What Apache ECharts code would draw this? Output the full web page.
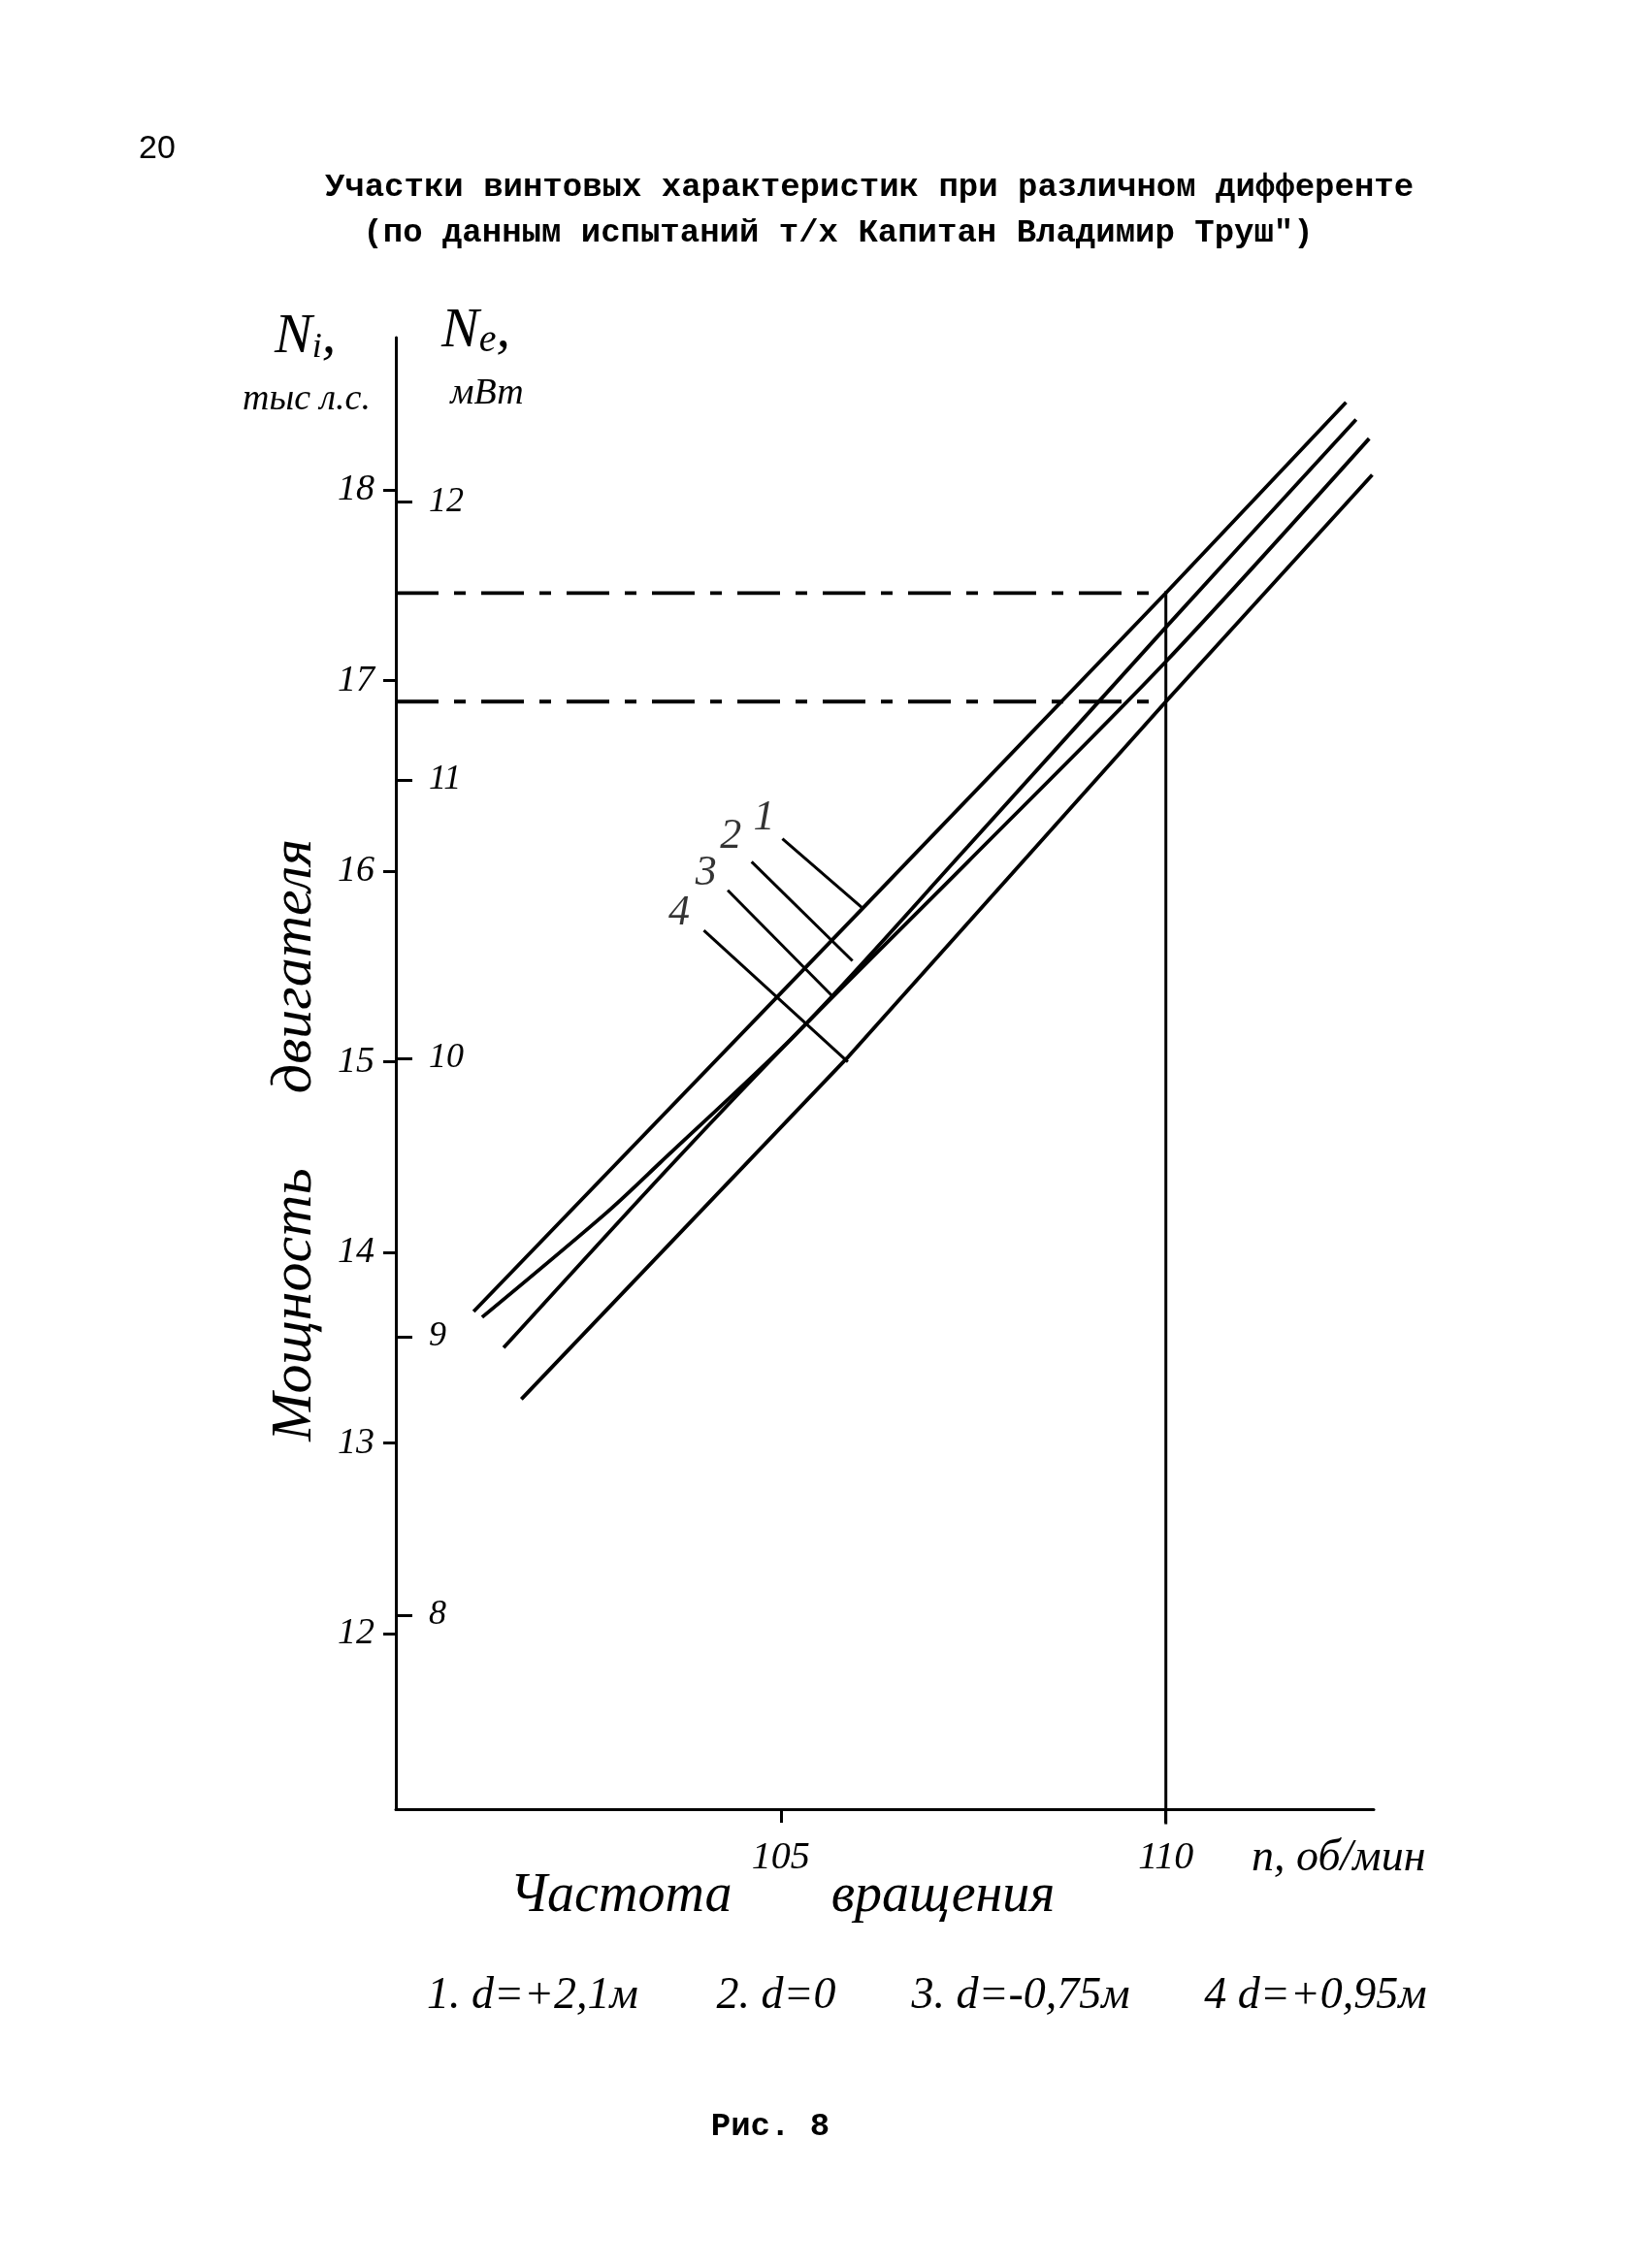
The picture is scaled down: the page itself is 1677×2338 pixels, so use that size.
<!DOCTYPE html>
<html><head><meta charset="utf-8">
<script src="https://cdn.jsdelivr.net/npm/echarts@6/dist/echarts.min.js"></script>
<style>html,body{margin:0;padding:0;background:#fff}#c{width:1677px;height:2338px}</style>
</head><body><div id="c"></div>
<script>
// Curves: [n (rpm), Ni (thousand hp)]
const curve1 = [[101.01,13.69],[106.05,15.80],[110.0,17.46],[112.34,18.46]];
const curve2 = [[101.12,13.66],[102.74,14.21],[103.43,14.47],[105.28,15.18],[107.43,16.13],[110.0,17.28],[112.47,18.37]];
const curve3 = [[101.40,13.50],[103.58,14.46],[105.28,15.18],[107.43,16.05],[110.0,17.10],[112.64,18.27]];
const curve4 = [[101.63,13.23],[105.86,15.02],[110.0,16.89],[112.68,18.08]];
const curveNames = ['1','2','3','4'];
const labelPoints = [[104.78,16.28],[104.35,16.18],[104.03,15.99],[103.68,15.78]];
const leader1 = [[105.02,16.17],[106.05,15.81]];
const leader2 = [[104.62,16.05],[105.93,15.53]];
const leader3 = [[104.31,15.90],[105.68,15.34]];
const leader4 = [[104.00,15.69],[105.87,15.00]];
const upperDash = [[100,17.46],[110,17.46]];
const lowerDash = [[100,16.89],[110,16.89]];
const vertical110 = [[110,17.46],[110,11.0]];
const niTicks = [12,13,14,15,16,17,18];
const neTicks = [8,9,10,11,12];
const xTicks = [105,110];
const legendItems = ['1. d=+2,1м','2. d=0','3. d=-0,75м','4 d=+0,95м'];

const HAND = '"Liberation Serif"';
const TYPE = '"Liberation Mono"';
const chart = echarts.init(document.getElementById('c'));

function lineSeries(data, w, dash, smooth) {
  return {type:'line', data:data, symbol:'none', silent:true, clip:false, smooth: smooth || false,
    lineStyle:{color:'#000', width:w, type: dash || 'solid'}, z: 3};
}
function txt(x, y, text, size, family, opts) {
  opts = opts || {};
  return {type:'text', x:x, y:y, rotation: opts.rot || 0, z:10,
    style:{text:text, fontSize:size, fontFamily:family, fontStyle: opts.style || 'normal',
      fontWeight: opts.weight || 'normal', fill:'#000',
      align: opts.align || 'center', verticalAlign:'middle',
      textAlign: opts.align || 'center', textVerticalAlign:'middle'}};
}

const option = {
  backgroundColor:'#fff',
  animation:false,
  grid:{left:408, right:261, top:348, bottom:473},
  xAxis:{type:'value', min:100, max:112.7, interval:5,
    axisLine:{lineStyle:{color:'#000', width:3}},
    axisTick:{customValues:xTicks, length:14, lineStyle:{color:'#000', width:3}},
    axisLabel:{customValues:xTicks, margin:30, fontSize:40, fontStyle:'italic', fontFamily:HAND, color:'#000'},
    splitLine:{show:false}},
  yAxis:[
    {type:'value', min:11.079, max:18.8, position:'left',
      axisLine:{show:true, lineStyle:{color:'#000', width:3}},
      axisTick:{customValues:niTicks, length:13, lineStyle:{color:'#000', width:3}},
      axisLabel:{customValues:niTicks, margin:22, fontSize:38, fontStyle:'italic', fontFamily:HAND, color:'#000'},
      splitLine:{show:false}},
    {type:'value', min:7.303, max:12.589, position:'left', offset:0,
      axisLine:{show:false},
      axisTick:{customValues:neTicks, inside:true, length:17, lineStyle:{color:'#000', width:3}},
      axisLabel:{customValues:neTicks, inside:true, margin:34, fontSize:36, fontStyle:'italic', fontFamily:HAND, color:'#000'},
      splitLine:{show:false}}
  ],
  series:[
    lineSeries(curve1, 3.8), lineSeries(curve2, 3.8, null, 0.3), lineSeries(curve3, 3.8, null, 0.3), lineSeries(curve4, 3.8),
    lineSeries(upperDash, 3.8, [44,16,12,16]), lineSeries(lowerDash, 3.8, [44,16,12,16]),
    lineSeries(vertical110, 3),
    lineSeries(leader1, 3), lineSeries(leader2, 3), lineSeries(leader3, 3), lineSeries(leader4, 3),
    {type:'scatter', symbolSize:0, silent:true,
      data: labelPoints.map((p,i)=>({value:p, name:curveNames[i]})),
      label:{show:true, position:'inside', formatter:'{b}', fontSize:44, fontFamily:HAND, fontStyle:'italic', color:'#000'}}
  ],
  graphic:[
    txt(162, 154, '20', 34, '"Liberation Sans"'),
    txt(896, 193, 'Участки винтовых характеристик при различном дифференте', 34, TYPE, {weight:'bold'}),
    txt(864, 240, '(по данным испытаний т/х Капитан Владимир Труш")', 34, TYPE, {weight:'bold'}),
    {type:'text', x:283, y:348, z:10, style:{text:'{a|N}{b|i}{a|,}', fill:'#000', align:'left', verticalAlign:'middle',
      rich:{a:{fontSize:58, fontFamily:HAND, fontStyle:'italic', verticalAlign:'bottom'},
            b:{fontSize:36, fontFamily:HAND, fontStyle:'italic', verticalAlign:'bottom'}}}},
    txt(316, 412, 'тыс л.с.', 38, HAND, {style:'italic'}),
    {type:'text', x:455, y:342, z:10, style:{text:'{a|N}{b|e}{a|,}', fill:'#000', align:'left', verticalAlign:'middle',
      rich:{a:{fontSize:58, fontFamily:HAND, fontStyle:'italic', verticalAlign:'bottom'},
            b:{fontSize:40, fontFamily:HAND, fontStyle:'italic', verticalAlign:'bottom'}}}},
    txt(502, 406, 'мВт', 38, HAND, {style:'italic'}),
    txt(304, 1345, 'Мощность', 60, HAND, {style:'italic', rot:Math.PI/2}),
    txt(304, 996, 'двигателя', 60, HAND, {style:'italic', rot:Math.PI/2}),
    txt(640, 1955, 'Частота', 56, HAND, {style:'italic'}),
    txt(972, 1955, 'вращения', 56, HAND, {style:'italic'}),
    txt(1290, 1916, 'n, об/мин', 46, HAND, {style:'italic', align:'left'}),
    txt(549, 2058, legendItems[0], 46, HAND, {style:'italic'}),
    txt(800, 2058, legendItems[1], 46, HAND, {style:'italic'}),
    txt(1052, 2058, legendItems[2], 46, HAND, {style:'italic'}),
    txt(1356, 2058, legendItems[3], 46, HAND, {style:'italic'}),
    txt(794, 2192, 'Рис. 8', 34, TYPE, {weight:'bold'})
  ]
};
chart.setOption(option);
</script></body></html>
